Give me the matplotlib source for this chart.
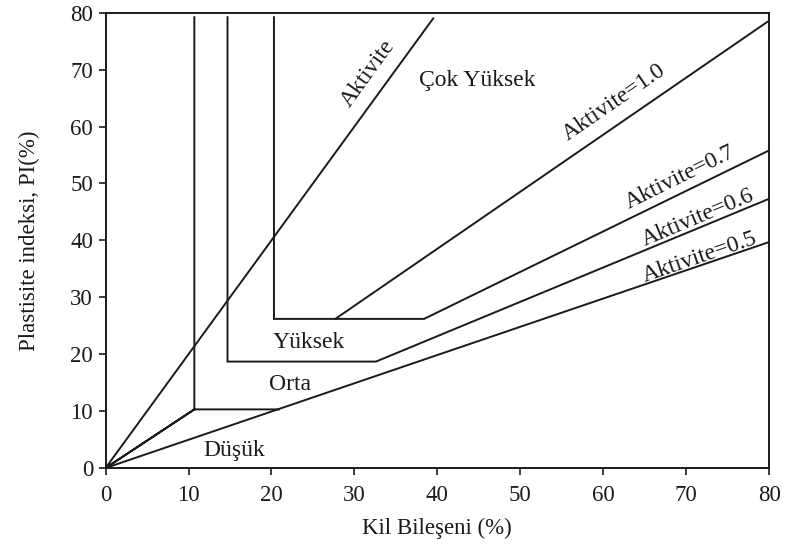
import matplotlib
matplotlib.use('Agg')
import matplotlib.pyplot as plt

plt.rcParams['font.family'] = ['Liberation Serif', 'DejaVu Serif']

# sınır çizgileri (Kil %, PI %)
aktivite_x = [0, 39.5]
aktivite_y = [0, 79.0]

dusuk_orta_x = [20.9, 10.7, 0, 10.7, 10.7]
dusuk_orta_y = [10.3, 10.3, 0, 10.3, 79.2]

orta_yuksek_x = [14.7, 14.7, 32.6, 80]
orta_yuksek_y = [79.2, 18.7, 18.7, 47.3]

yuksek_cok_x = [20.3, 20.3, 38.4, 80]
yuksek_cok_y = [79.2, 26.2, 26.2, 55.8]

akt10_x = [27.7, 79.8]
akt10_y = [26.2, 78.4]

akt05_x = [0, 80]
akt05_y = [0, 39.7]

ticks = [0, 10, 20, 30, 40, 50, 60, 70, 80]

# etiketler: metin, x, y, açı
labels = [
    ('Aktivite', 31.7, 69.3, 54),
    ('Çok Yüksek', 44.8, 68.0, 0),
    ('Aktivite=1.0', 61.3, 64.3, 34.5),
    ('Aktivite=0.7', 69.3, 51.0, 26.3),
    ('Aktivite=0.6', 71.4, 44.0, 22.7),
    ('Aktivite=0.5', 71.6, 37.0, 18.9),
    ('Yüksek', 24.5, 22.1, 0),
    ('Orta', 22.2, 14.6, 0),
    ('Düşük', 15.5, 3.0, 0),
]

fig = plt.figure(figsize=(7.88, 5.47), dpi=100)
ax = fig.add_axes([0.134, 0.1444, 0.842, 0.8324])

lw = 1.4
for xs, ys in [(aktivite_x, aktivite_y), (dusuk_orta_x, dusuk_orta_y),
               (orta_yuksek_x, orta_yuksek_y), (yuksek_cok_x, yuksek_cok_y),
               (akt10_x, akt10_y), (akt05_x, akt05_y)]:
    ax.plot(xs, ys, color='#1a1a1a', linewidth=lw, solid_joinstyle='miter')

for txt, x, y, rot in labels:
    ax.text(x, y, txt, fontsize=17, rotation=rot, ha='center', va='center',
            rotation_mode='anchor', color='#1a1a1a')

ax.set_xlim(0, 80)
ax.set_ylim(0, 80)
ax.set_xticks(ticks)
ax.set_yticks(ticks)
ax.tick_params(direction='out', length=5, width=1.2, labelsize=16.5, colors='#1a1a1a', pad=4)
ax.tick_params(axis='x', pad=7)
for s in ax.spines.values():
    s.set_linewidth(1.4)
    s.set_color('#1a1a1a')

ax.set_xlabel('Kil Bileşeni (%)', fontsize=16.5, color='#1a1a1a', labelpad=9)
ax.set_ylabel('Plastisite indeksi, PI(%)', fontsize=16.5, color='#1a1a1a', labelpad=22)

fig.savefig('out.png', dpi=100)
